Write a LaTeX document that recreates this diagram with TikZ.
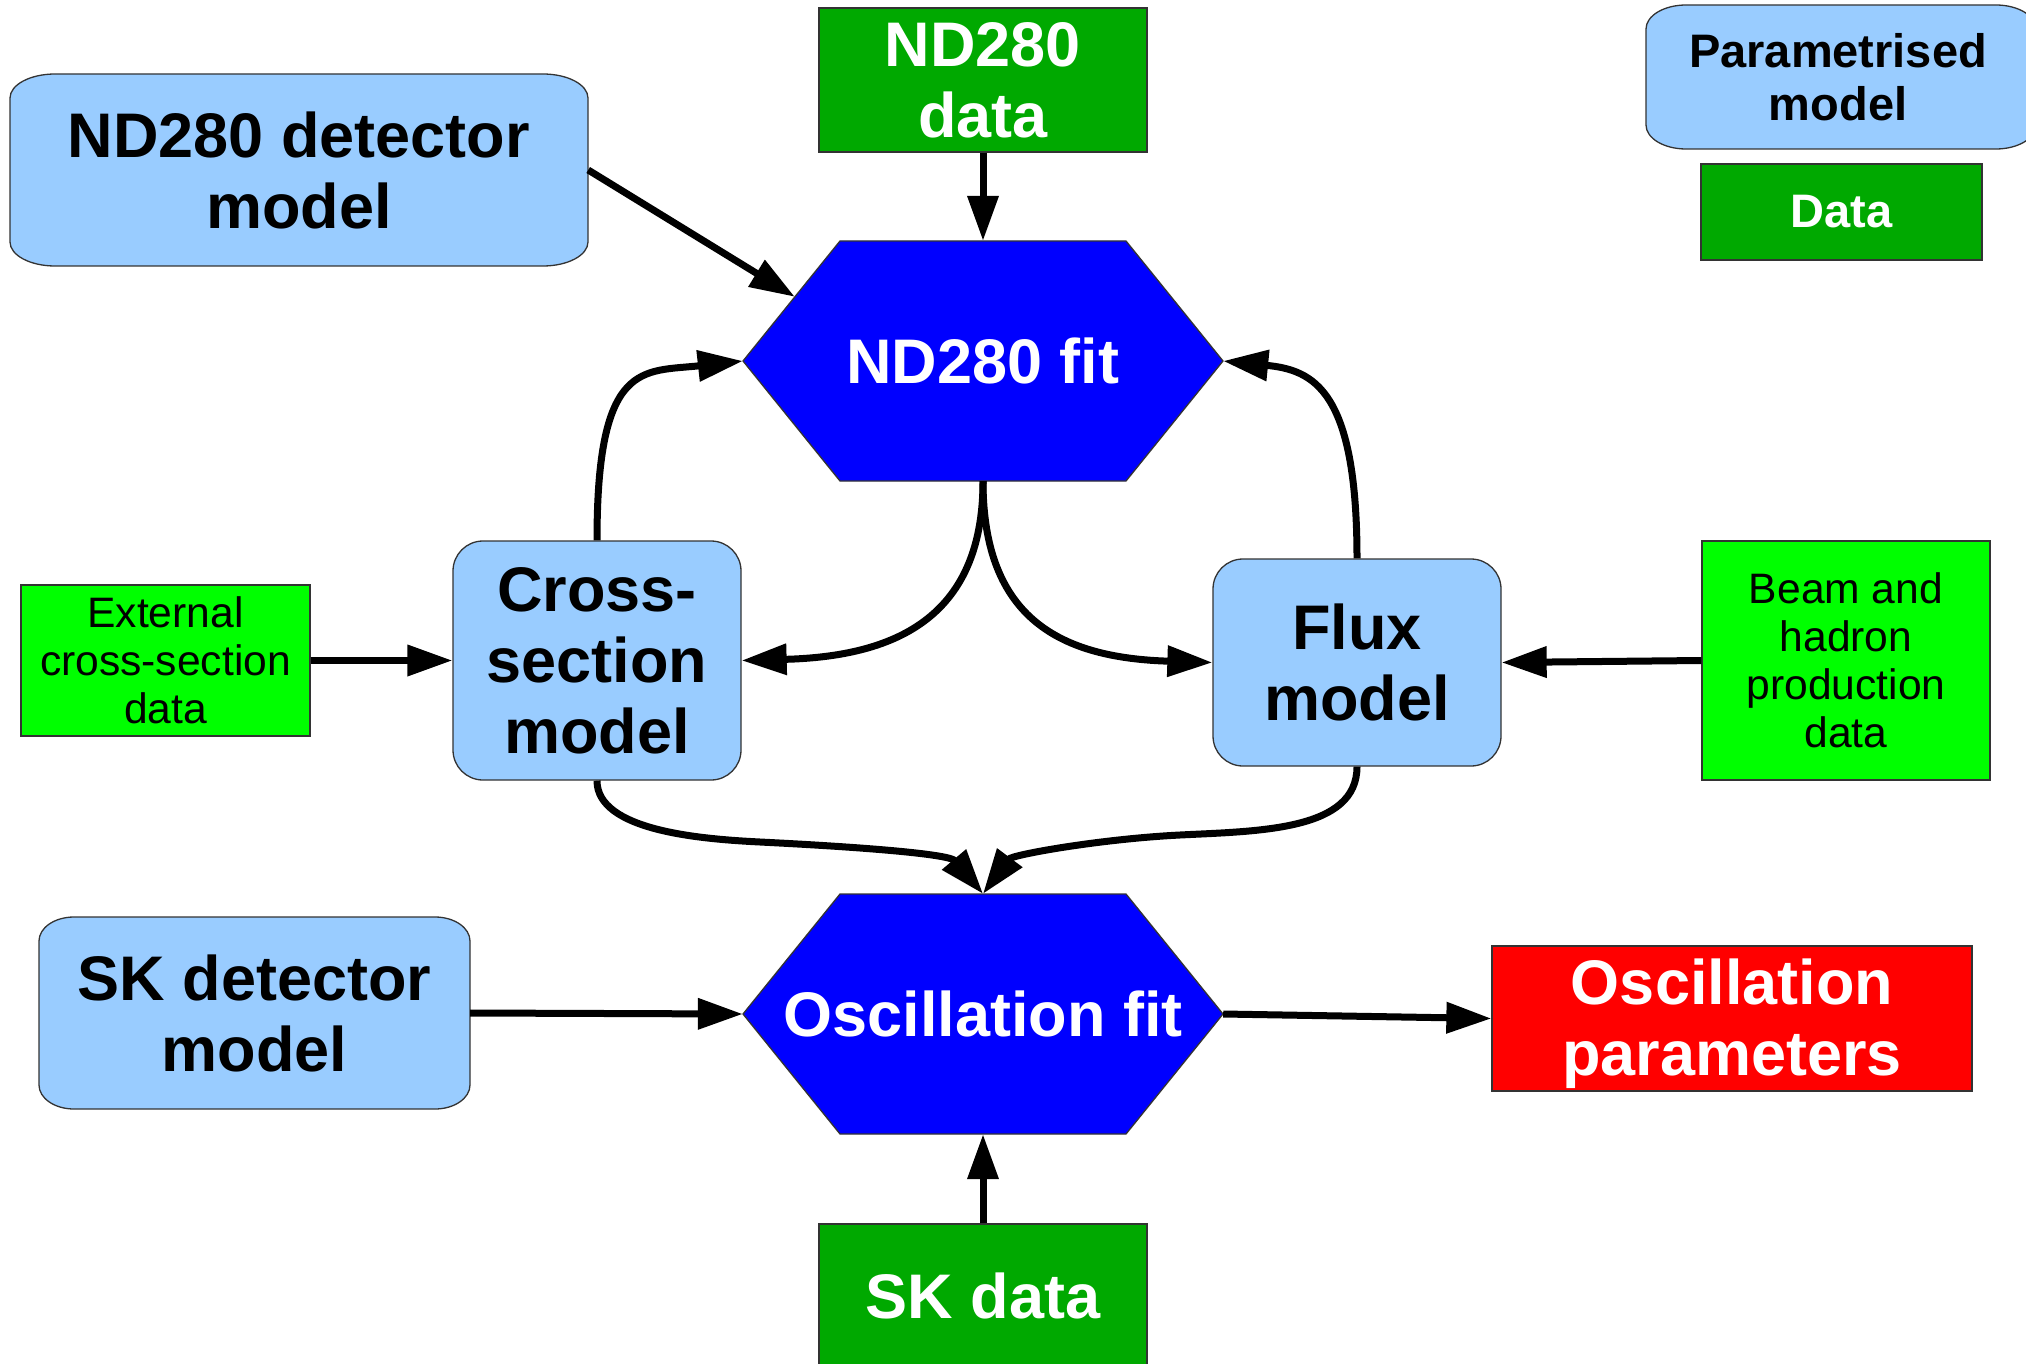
\documentclass[tikz,border=0pt]{standalone}
\usepackage{fontspec}
\setmainfont{Liberation Sans}
\usetikzlibrary{arrows.meta,calc}
\definecolor{modelblue}{HTML}{99CCFF}
\definecolor{datagreen}{HTML}{00A900}
\definecolor{extgreen}{HTML}{00FF00}
\definecolor{fitblue}{HTML}{0000FF}
\definecolor{resred}{HTML}{FF0000}
\definecolor{edgegray}{HTML}{333333}
% style, x1, y1, x2, y2, rx, ry : rectangle with elliptical corners
\newcommand\ellrect[7]{%
 \path[#1] (#2+#6,#3) -- (#4-#6,#3)
   .. controls (#4-0.448*#6,#3) and (#4,#3+0.448*#7) .. (#4,#3+#7) -- (#4,#5-#7)
   .. controls (#4,#5-0.448*#7) and (#4-0.448*#6,#5) .. (#4-#6,#5) -- (#2+#6,#5)
   .. controls (#2+0.448*#6,#5) and (#2,#5-0.448*#7) .. (#2,#5-#7) -- (#2,#3+#7)
   .. controls (#2,#3+0.448*#7) and (#2+0.448*#6,#3) .. (#2+#6,#3) -- cycle;}
% style, x1, y1, x2, y2, inset : hexagon
\newcommand\hexshape[6]{%
 \path[#1] (#2,{(#3+#5)/2}) -- (#2+#6,#3) -- (#4-#6,#3) -- (#4,{(#3+#5)/2})
   -- (#4-#6,#5) -- (#2+#6,#5) -- cycle;}
\tikzset{
 bigbold/.style={font=\fontsize{63}{71}\selectfont\bfseries},
 keybold/.style={font=\fontsize{47}{53}\selectfont\bfseries},
 plaintext/.style={font=\fontsize{42.6}{48}\selectfont},
 box/.style={rectangle, inner sep=0pt, align=center},
 modelfill/.style={fill=modelblue, draw=edgegray, line width=1.3pt},
 datafill/.style={fill=datagreen, draw=edgegray, line width=1.3pt},
 extfill/.style={fill=extgreen, draw=edgegray, line width=1.3pt},
 fitfill/.style={fill=fitblue, draw=edgegray, line width=1.3pt},
 resfill/.style={fill=resred, draw=edgegray, line width=1.3pt},
 conn/.style={line width=7pt, -{Triangle[length=45pt,width=30pt]}},
}
\begin{document}
\begin{tikzpicture}[x=1pt,y=-1pt]
\useasboundingbox (0,0) rectangle (2026,1364);
\clip (0,0) rectangle (2026,1364);

% ---- model shapes with elliptical corners
\ellrect{modelfill}{10}{74}{588}{266}{45}{24}
\node[box,bigbold,minimum width=578pt,minimum height=192pt] (nddet) at (299,170) {ND280 detector\\model};
\ellrect{modelfill}{39}{917}{470}{1109}{35}{24}
\node[box,bigbold,minimum width=431pt,minimum height=192pt] (skdet) at (254.5,1013) {SK detector\\model};
\ellrect{modelfill}{1646}{5}{2036}{149}{40}{24}
\node[box,keybold,minimum width=388pt,minimum height=144pt] (param) at (1838,77) {Parametrised\\model};

% ---- legend data
\node[box,datafill,keybold,text=white,minimum width=281pt,minimum height=96pt] (datakey) at (1841.5,212) {Data};

% ---- data boxes
\node[box,datafill,bigbold,text=white,minimum width=328pt,minimum height=144pt] (nddata) at (983,80) {ND280\\data};
\node[box,datafill,bigbold,text=white,minimum width=328pt,minimum height=143pt] (skdata) at (983,1295.5) {SK data};
\node[box,extfill,plaintext,minimum width=289pt,minimum height=151pt] (extxs) at (165.5,660.5) {External\\cross-section\\data};
\node[box,extfill,plaintext,minimum width=288pt,minimum height=239pt] (beam) at (1846,660.5) {Beam and\\hadron\\production\\data};

% ---- rounded models
\node[box,modelfill,rounded corners=30pt,bigbold,minimum width=288pt,minimum height=239pt] (xsec) at (597,660.5) {Cross-\\section\\model};
\node[box,modelfill,rounded corners=30pt,bigbold,minimum width=288pt,minimum height=207pt] (flux) at (1357,662.5) {Flux\\model};

% ---- fits
\hexshape{fitfill}{743}{241}{1223}{481}{97}
\node[box,bigbold,text=white,minimum width=480pt,minimum height=240pt] (ndfit) at (983,361) {ND280 fit};
\coordinate (ndfit-tl) at (840,241);
\hexshape{fitfill}{743}{894}{1223}{1134}{97}
\node[box,bigbold,text=white,minimum width=480pt,minimum height=240pt] (oscfit) at (983,1014) {Oscillation fit};

% ---- result
\node[box,resfill,bigbold,text=white,minimum width=480pt,minimum height=145pt] (oscpar) at (1732,1018.5) {\rule{0pt}{56pt}Oscillation\\parameters};

% ---- connectors
\draw[conn] (nddet.east) -- ($(ndfit.west)!0.535!(ndfit-tl)$);
\draw[conn] (nddata.south) -- (ndfit.north);
\draw[conn] (skdata.north) -- (oscfit.south);
\draw[conn] (extxs.east) -- (xsec.west);
\draw[conn] (beam.west) -- (flux.east);
\draw[conn] (skdet.east) -- (oscfit.west);
\draw[conn] (oscfit.east) -- (oscpar.west);

\draw[conn] (xsec.north) .. controls +(0,-181) and +(-100,11) .. (ndfit.west);
\draw[conn] (flux.north) .. controls +(0,-169) and +(90,9) .. (ndfit.east);
\draw[conn] (ndfit.south) .. controls +(0,139) and +(150,-4) .. (xsec.east);
\draw[conn] (ndfit.south) .. controls +(0,139) and +(-150,-4.5) .. (flux.west);
\draw[conn] (xsec.south) .. controls +(0,50) and +(-60,-3) .. (760,842)
   .. controls +(120,6) and +(-33,-39) .. (oscfit.north);
\draw[conn] (flux.south) .. controls +(0,64) and +(80,-4) .. (1180,835)
   .. controls +(-80,4) and +(29,-39) .. (oscfit.north);
\end{tikzpicture}
\end{document}
